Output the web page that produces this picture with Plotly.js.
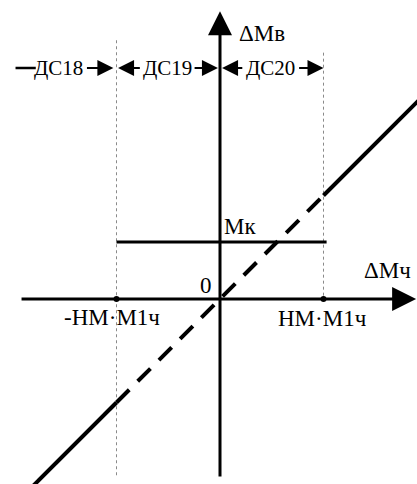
<!DOCTYPE html>
<html>
<head>
<meta charset="utf-8">
<script src="https://cdn.plot.ly/plotly-3.0.1.min.js"></script>
<style>
  html, body { margin: 0; padding: 0; background: #fff; }
  #chart { width: 417px; height: 484px; }
</style>
</head>
<body>
<div id="chart"></div>
<script>
// Characteristic ΔMв(ΔMч): dead band of width ±НМ·М1ч, level Мк, unit-gain line.
const bandEdges = [-1, 1];                 // ±НМ·М1ч on the ΔMч axis
const bandLabels = ['-НМ·М1ч', 'НМ·М1ч'];
const mkLevel = 0.55;                      // Мк
const mkX = [-1, 1.03];
const mkY = [mkLevel, mkLevel];

// unit-gain line split into solid outer parts and a dashed middle part
const lowX = [-2.2, -1];
const lowY = [-2.2, -1];
const midX = [-1, 1];
const midY = [-1, 1];
const highX = [1, 2.0];
const highY = [1, 2.0];

// zone names above the plot
const zoneNames = ['ДС18', 'ДС19', 'ДС20'];
const zoneCenters = [-1.56, -0.51, 0.49];

const FONT = 'Liberation Serif, Times New Roman, serif';
const INK = '#000';
const TXT = 23;

const traces = [
  // dotted boundaries of the dead band
  { x: [bandEdges[0], bandEdges[0]], y: [2.50, -1.73], mode: 'lines',
    line: { color: '#8a8a8a', width: 1, dash: 'dot' } },
  { x: [bandEdges[1], bandEdges[1]], y: [2.38, 0], mode: 'lines',
    line: { color: '#8a8a8a', width: 1, dash: 'dot' } },
  // Мк level
  { x: mkX, y: mkY, mode: 'lines', line: { color: INK, width: 3 } },
  // unit-gain line
  { x: lowX, y: lowY, mode: 'lines', line: { color: INK, width: 4 } },
  { x: midX, y: midY, mode: 'lines', line: { color: INK, width: 4, dash: '18px,12px' } },
  { x: highX, y: highY, mode: 'lines', line: { color: INK, width: 4 } },
  // tick dots on ΔMч axis
  { x: bandEdges, y: [0, 0], mode: 'markers',
    marker: { color: INK, size: 6, symbol: 'circle' } }
];

function arrow(xh, yh, xt, yt, w, size, head) {
  return { x: xh, y: yh, ax: xt, ay: yt, xref: 'x', yref: 'y', axref: 'x', ayref: 'y',
           text: '', showarrow: true, arrowhead: head === undefined ? 2 : head,
           arrowsize: size, arrowwidth: w, arrowcolor: INK, standoff: 0, startstandoff: 0 };
}
function label(x, y, t, size) {
  return { x: x, y: y, xref: 'x', yref: 'y', text: t, showarrow: false,
           xanchor: 'center', yanchor: 'middle',
           font: { family: FONT, size: size || TXT, color: INK } };
}

const yRow = 2.232;
const annotations = [
  // axes
  arrow(0, 2.78, 0, -1.73, 3, 1.6, 2),
  arrow(1.895, 0, -1.932, 0, 3, 1.6, 2),
  // zone dimension arrows
  arrow(-1.78, yRow, -1.99, yRow, 2.5, 1.5, 0),
  arrow(-1.03, yRow, -1.30, yRow, 2, 1.6, 2),
  arrow(-0.985, yRow, -0.76, yRow, 2, 1.6, 2),
  arrow(-0.02, yRow, -0.26, yRow, 2, 1.6, 2),
  arrow(0.02, yRow, 0.23, yRow, 2, 1.6, 2),
  arrow(1.0, yRow, 0.75, yRow, 2, 1.6, 2),
  // texts
  label(zoneCenters[0], yRow, zoneNames[0], 21),
  label(zoneCenters[1], yRow, zoneNames[1], 21),
  label(zoneCenters[2], yRow, zoneNames[2], 21),
  label(0.406, 2.57, 'ΔMв'),
  label(1.614, 0.271, 'ΔMч'),
  label(-0.135, 0.135, '0'),
  label(0.19, 0.696, 'Мк'),
  label(-1.04, -0.174, bandLabels[0]),
  label(0.99, -0.184, bandLabels[1])
];

const layout = {
  width: 417, height: 484,
  margin: { l: 0, r: 0, t: 0, b: 0 },
  paper_bgcolor: '#fff', plot_bgcolor: '#fff',
  showlegend: false,
  xaxis: { range: [-2.1256, 1.9034], visible: false, fixedrange: true },
  yaxis: { range: [-1.7874, 2.8889], visible: false, fixedrange: true },
  annotations: annotations
};

Plotly.newPlot('chart', traces, layout, { staticPlot: true, displayModeBar: false });
</script>
</body>
</html>
